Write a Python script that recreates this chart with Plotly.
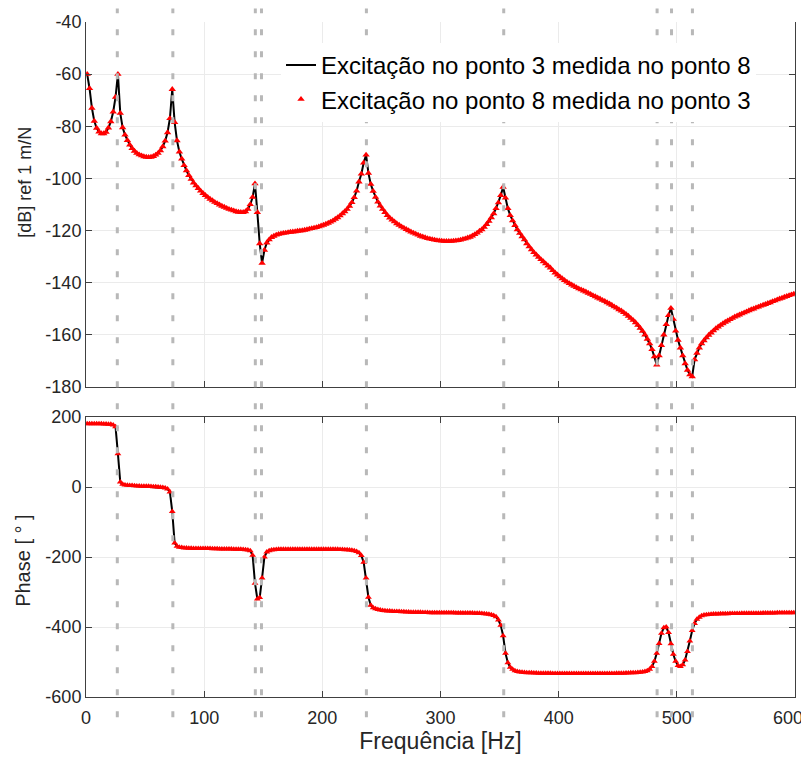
import plotly.graph_objects as go

# ---------------- data ----------------
freq = list(range(1, 601, 2))  # Hz, 1..599

mag_db = [
    -60, -65.5, -73, -78, -80.7, -82.1, -82.8, -82.8, -82.2, -80.6,
    -78.2, -74.5, -68.8, -60, -75, -80.5, -83.3, -85.4, -87.1, -88.5,
    -89.5, -90.3, -90.9, -91.3, -91.6, -91.8, -91.9, -91.8, -91.5, -91,
    -90.3, -89.3, -87.8, -85.6, -82.4, -77, -65.8, -78.5, -85.5, -89.8,
    -92.5, -95, -97, -98.8, -100.3, -101.7, -102.8, -103.8, -104.8, -105.7,
    -106.5, -107.2, -107.9, -108.5, -109.1, -109.6, -110.1, -110.6, -111, -111.4,
    -111.8, -112.1, -112.4, -112.7, -112.9, -113, -113, -112.7, -111.8, -110,
    -107.2, -102, -113, -125, -132.5, -127.5, -124.7, -123.5, -122.6, -122.1,
    -121.7, -121.4, -121.2, -121, -120.9, -120.7, -120.6, -120.5, -120.4, -120.2,
    -120.1, -120, -119.8, -119.6, -119.4, -119.2, -119, -118.8, -118.5, -118.2,
    -117.9, -117.5, -117.1, -116.7, -116.2, -115.6, -115, -114.3, -113.5, -112.7,
    -111.8, -110.6, -109.2, -107.3, -104.8, -101.3, -98.3, -94, -91, -98,
    -102.2, -104.9, -107.2, -109, -110.5, -111.8, -113, -114.2, -115.1, -115.9,
    -116.6, -117.3, -117.9, -118.5, -119, -119.5, -120, -120.5, -120.9, -121.3,
    -121.7, -122.1, -122.4, -122.7, -123, -123.2, -123.4, -123.6, -123.8, -123.9,
    -124, -124.1, -124.1, -124.1, -124.1, -124, -123.9, -123.8, -123.6, -123.3,
    -123.1, -122.8, -122.5, -122, -121.5, -120.9, -120.2, -119.6, -118.7, -117.6,
    -116.4, -115, -113.5, -111.5, -109.3, -106.5, -103.3, -107.5, -111.5, -114.2,
    -116.2, -118, -119.6, -121, -122.3, -123.5, -125, -126.2, -127.3, -128.4,
    -129.3, -130.2, -131.1, -131.9, -132.7, -133.5, -134.3, -135.3, -136.2, -137,
    -137.7, -138.4, -139.1, -139.7, -140.3, -140.8, -141.3, -141.8, -142.3, -142.7,
    -143.1, -143.5, -144, -144.4, -144.9, -145.3, -145.8, -146.2, -146.7, -147.1,
    -147.6, -148.1, -148.6, -149.2, -149.7, -150.3, -150.8, -151.4, -152.1, -152.8,
    -153.6, -154.4, -155.3, -156.3, -157.4, -158.6, -160, -161.6, -163.4, -165.6,
    -168.4, -171.5, -168, -164, -160, -156, -152.5, -149.8, -154, -158.5,
    -162, -165, -168, -171, -173.5, -175.3, -176, -169.5, -167, -165,
    -163.4, -162.2, -161.1, -160.1, -159.2, -158.4, -157.6, -156.9, -156.3, -155.7,
    -155.1, -154.6, -154.1, -153.6, -153.1, -152.7, -152.3, -151.9, -151.5, -151.1,
    -150.7, -150.3, -150, -149.6, -149.3, -148.9, -148.6, -148.3, -147.9, -147.6,
    -147.2, -146.9, -146.5, -146.2, -145.9, -145.5, -145.2, -144.9, -144.6, -144.3,
]

phase_deg = [
    181, 181, 181, 181, 181, 180.5, 180.5, 180, 180, 179.5,
    179, 177, 172, 95, 14, 8, 6, 5, 4.5, 4,
    3.5, 3, 3, 2.5, 2.5, 2, 2, 1.5, 1, 0.5,
    0, -0.5, -1.5, -3, -6, -14, -70, -160, -169, -172,
    -173, -174, -174.5, -175, -175, -175.5, -175.5, -176, -176, -176,
    -176, -176, -176, -176.5, -176.5, -176.5, -177, -177, -177, -177,
    -177, -177, -177.5, -177.5, -178, -178, -178.5, -179, -180, -182,
    -195, -275, -320, -316, -260, -200, -186, -182, -180, -179,
    -178.5, -178, -178, -178, -177.5, -177.5, -177.5, -177.5, -177.5, -177.5,
    -177.5, -177.5, -177.5, -177.5, -177.5, -177.5, -177.5, -178, -178, -178,
    -178, -178, -178, -178, -178, -178, -178, -178.5, -178.5, -179,
    -179.5, -180, -181, -182, -184, -188, -196, -215, -260, -315,
    -338, -345, -348, -350, -351.5, -352.5, -353.5, -354, -354.5, -355,
    -355.5, -356, -356, -356.5, -356.5, -357, -357, -357.5, -357.5, -358,
    -358, -358, -358.5, -358.5, -358.5, -359, -359, -359, -359, -359,
    -359.5, -359.5, -359.5, -359.5, -359.5, -359.5, -360, -360, -360, -360,
    -360, -360, -360, -360, -360.5, -360.5, -361, -361.5, -362, -362.5,
    -363.5, -365, -367, -371, -380, -395, -425, -475, -502, -515,
    -521, -525, -527, -528.5, -529.5, -530, -530.5, -531, -531, -531.5,
    -531.5, -532, -532, -532, -532, -532, -532, -532.5, -532.5, -532.5,
    -532.5, -532.5, -532.5, -532.5, -532.5, -532.5, -532.5, -532.5, -532.5, -532.5,
    -532.5, -532.5, -532.5, -532.5, -532.5, -532.5, -532.5, -532.5, -532.5, -532.5,
    -532.5, -532.5, -532.5, -532.5, -532, -532, -532, -532, -531.5, -531.5,
    -531, -531, -530.5, -530, -529.5, -528.5, -527, -525, -521, -513,
    -498, -475, -447, -418, -402, -400, -416, -448, -478, -498,
    -510, -513, -508, -494, -470, -440, -410, -390, -378, -372,
    -368, -366, -365, -364, -363.5, -363, -362.5, -362.5, -362, -362,
    -362, -362, -361.5, -361.5, -361.5, -361.5, -361.5, -361, -361, -361,
    -361, -361, -360.5, -360.5, -360.5, -360.5, -360, -360, -360, -360,
    -360, -360, -359.5, -359.5, -359.5, -359.5, -359.5, -359, -359, -359,
]

# natural / anti-resonance frequencies marked with dashed lines
mode_freqs = [26.5, 73.5, 143.3, 148.5, 237.3, 353.5, 483.3, 495.5, 513.2]

mag_ticks = [-180, -160, -140, -120, -100, -80, -60, -40]
mag_ticktext = ["-180", "-160", "-140", "-120", "-100", "-80", "-60", "-40"]
phase_ticks = [-600, -400, -200, 0, 200]
phase_ticktext = ["-600", "-400", "-200", "0", "200"]
freq_ticks = [0, 100, 200, 300, 400, 500, 600]
freq_ticktext = ["0", "100", "200", "300", "400", "500", ""]
last_freq_label = "600"   # drawn separately so it stays inside the page edge

name_a = "Excitação no ponto 3 medida no ponto 8"
name_b = "Excitação no ponto 8 medida no ponto 3"
mag_label = "[dB] ref 1 m/N"
phase_label = "Phase [ ° ]"
freq_label = "Frequência [Hz]"

# ---------------- figure ----------------
fig = go.Figure()

fig.add_trace(go.Scatter(x=freq, y=mag_db, mode="lines", name=name_a,
                         line=dict(color="black", width=2),
                         xaxis="x", yaxis="y", legendgroup="a"))
fig.add_trace(go.Scatter(x=freq, y=mag_db, mode="markers", name=name_b,
                         marker=dict(symbol="triangle-up", color="red", size=6.5,
                                     line=dict(width=0)),
                         xaxis="x", yaxis="y", legendgroup="b"))
fig.add_trace(go.Scatter(x=freq, y=phase_deg, mode="lines", showlegend=False,
                         line=dict(color="black", width=2),
                         xaxis="x2", yaxis="y2", legendgroup="a"))
fig.add_trace(go.Scatter(x=freq, y=phase_deg, mode="markers", showlegend=False,
                         marker=dict(symbol="triangle-up", color="red", size=6,
                                     line=dict(width=0)),
                         xaxis="x2", yaxis="y2", legendgroup="b"))

for f in mode_freqs:
    fig.add_shape(type="line", xref="x", yref="paper", x0=f, x1=f,
                  y0=-0.03, y1=1.02, layer="above",
                  line=dict(color="#b8b8b8", width=3, dash="6px,16px"))

# axis titles as rotated text
fig.add_annotation(text=mag_label, xref="paper", yref="paper", x=-0.086, y=0.762,
                   textangle=-90, showarrow=False, xanchor="center", yanchor="middle",
                   font=dict(size=18, color="#262626"))
fig.add_annotation(text=phase_label, xref="paper", yref="paper", x=-0.089, y=0.203,
                   textangle=-90, showarrow=False, xanchor="center", yanchor="middle",
                   font=dict(size=20, color="#262626"))
# last x tick label, nudged left as in the reference
fig.add_annotation(text=last_freq_label, xref="x2", yref="paper", x=freq_ticks[-1],
                   y=-0.0305, xanchor="right", yanchor="middle", xshift=10,
                   showarrow=False, font=dict(size=18, color="#262626"))

axis_col = "#404040"
grid_col = "#ebebeb"
tickfont = dict(size=18, color="#262626")

common_x = dict(range=[0, 600], tickvals=freq_ticks, showgrid=True, gridcolor=grid_col,
                zeroline=False, showline=True, linecolor=axis_col, linewidth=1,
                ticks="inside", ticklen=6, tickcolor=axis_col, tickfont=tickfont,
                automargin=False)
common_y = dict(showgrid=True, gridcolor=grid_col, zeroline=False,
                showline=True, linecolor=axis_col, linewidth=1, mirror="ticks",
                ticks="inside", ticklen=6, tickcolor=axis_col, tickfont=tickfont,
                automargin=False)

# page body has an 8 px margin, so the figure is 8 px smaller and margins shifted
fig.update_layout(
    width=801, height=750,
    margin=dict(l=78, r=14, t=14, b=61),
    plot_bgcolor="white", paper_bgcolor="white",
    font=dict(family="Liberation Sans, Arial, sans-serif", size=18, color="#262626"),
    xaxis=dict(anchor="y", showticklabels=False, mirror=False, **common_x),
    xaxis2=dict(anchor="y2", matches="x", mirror="ticks",
                ticktext=freq_ticktext, ticklabelstandoff=4,
                title=dict(text=freq_label, font=dict(size=23), standoff=0),
                **common_x),
    yaxis=dict(domain=[0.4593, 1.0], anchor="x", range=[-180, -40],
               tickvals=mag_ticks, ticktext=mag_ticktext, **common_y),
    yaxis2=dict(domain=[0.0, 0.4148], anchor="x2", range=[-600, 200],
                tickvals=phase_ticks, ticktext=phase_ticktext, **common_y),
    legend=dict(x=0.945, y=0.969, xanchor="right", yanchor="top",
                bgcolor="white", borderwidth=0,
                font=dict(size=24, color="black"),
                itemwidth=30, tracegroupgap=0),
)

fig.write_html("out.html")
